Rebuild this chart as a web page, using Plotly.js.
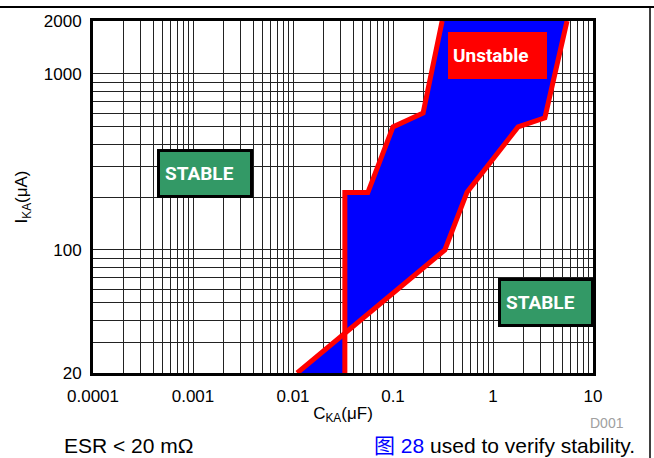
<!DOCTYPE html>
<html>
<head>
<meta charset="utf-8">
<script src="https://cdn.plot.ly/plotly-3.0.1.min.js"></script>
<style>html,body{margin:0;padding:0;background:#fff;}#chart{width:654px;height:458px;}</style>
</head>
<body>
<div id="chart"></div>
<script>
// Upper/left stability boundary (C in µF, I in µA)
const leftBoundaryC = [0.31, 0.2, 0.1, 0.056, 0.033, 0.033];
const leftBoundaryI = [2000, 600, 500, 212, 212, 20];
// Lower/right stability boundary
const rightBoundaryC = [5.5, 3.3, 1.78, 0.55, 0.33, 0.011];
const rightBoundaryI = [2000, 563, 500, 213, 100, 20];

// Labelled ticks
const xTickVals = [0.0001, 0.001, 0.01, 0.1, 1, 10];
const xTickText = ['0.0001', '0.001', '0.01', '0.1', '1', '10'];
const yTickVals = [20, 100, 1000, 2000];
const yTickText = ['20', '100', '1000', '2000'];
// Unlabelled grid positions
const xMinorVals = [];
[0.0001, 0.001, 0.01, 0.1, 1].forEach(d => {
  for (let m = 2; m <= 9; m++) xMinorVals.push(+(d * m).toPrecision(3));
});
const yMinorVals = [30, 40, 50, 60, 70, 80, 90, 200, 300, 400, 500, 600, 700, 800, 900];

const regionC = leftBoundaryC.concat(rightBoundaryC.slice().reverse());
const regionI = leftBoundaryI.concat(rightBoundaryI.slice().reverse());

const traces = [
  {x: regionC, y: regionI, type: 'scatter', mode: 'lines', fill: 'toself',
   fillcolor: '#0000FF', line: {width: 0, color: '#0000FF'}, hoverinfo: 'skip'},
  {x: leftBoundaryC, y: leftBoundaryI, type: 'scatter', mode: 'lines',
   line: {color: '#FF0000', width: 5}},
  {x: rightBoundaryC, y: rightBoundaryI, type: 'scatter', mode: 'lines',
   line: {color: '#FF0000', width: 5}}
];

const tickFont = {family: 'Liberation Sans, Arial, sans-serif', size: 17, color: '#000'};
const boxFont = {family: 'Roboto, Liberation Sans, Arial, sans-serif', size: 19, color: '#fff'};
const gridStyle = {showgrid: true, gridcolor: '#222', gridwidth: 1, ticks: ''};

const layout = {
  width: 654, height: 458,
  margin: {l: 93, r: 61, t: 21, b: 85, pad: 0},
  paper_bgcolor: '#fff', plot_bgcolor: '#fff',
  showlegend: false,
  xaxis: {
    type: 'log', range: [-4, 1],
    tickmode: 'array', tickvals: xTickVals, ticktext: xTickText,
    ticks: '', ticklabelstandoff: 6,
    showgrid: true, gridcolor: '#222', gridwidth: 1,
    minor: Object.assign({tickmode: 'array', tickvals: xMinorVals}, gridStyle),
    showline: true, linecolor: '#000', linewidth: 3, mirror: true,
    zeroline: false, tickfont: tickFont,
    title: {text: 'C<sub>KA</sub>(μF)', font: tickFont, standoff: 2}
  },
  yaxis: {
    type: 'log', range: [Math.log10(20), Math.log10(2000)],
    tickmode: 'array', tickvals: yTickVals, ticktext: yTickText,
    ticks: '', ticklabelstandoff: 5,
    showgrid: true, gridcolor: '#222', gridwidth: 1,
    minor: Object.assign({tickmode: 'array', tickvals: yMinorVals}, gridStyle),
    showline: true, linecolor: '#000', linewidth: 3, mirror: true,
    zeroline: false, tickfont: tickFont,
    title: {text: 'I<sub>KA</sub>(μA)', font: tickFont, standoff: 12}
  },
  annotations: [
    {text: '<b>STABLE</b>', xref: 'paper', yref: 'paper', x: 0.224, y: 0.567,
     xanchor: 'center', yanchor: 'middle', showarrow: false, font: boxFont,
     bgcolor: '#339966', bordercolor: '#000', borderwidth: 3, borderpad: 5,
     width: 80, height: 33, align: 'left'},
    {text: '<b>STABLE</b>', xref: 'paper', yref: 'paper', x: 0.906, y: 0.200,
     xanchor: 'center', yanchor: 'middle', showarrow: false, font: boxFont,
     bgcolor: '#339966', bordercolor: '#000', borderwidth: 3, borderpad: 5,
     width: 80, height: 33, align: 'left'},
    {text: '<b>Unstable</b>', xref: 'paper', yref: 'paper', x: 0.809, y: 0.902,
     xanchor: 'center', yanchor: 'middle', showarrow: false, font: boxFont,
     bgcolor: '#FF0000', borderwidth: 0, borderpad: 5,
     width: 89, height: 37, align: 'left'},
    {text: 'D001', xref: 'paper', yref: 'paper', x: 1.028, y: -0.142,
     xanchor: 'center', yanchor: 'middle', showarrow: false,
     font: {family: 'Liberation Sans, Arial, sans-serif', size: 14, color: '#a0a0a0'}},
    {text: 'ESR < 20 mΩ', xref: 'paper', yref: 'paper', x: -0.062, y: -0.205,
     xanchor: 'left', yanchor: 'middle', showarrow: false,
     font: {family: 'Liberation Sans, Arial, sans-serif', size: 21, color: '#000'}},
    {text: '<span style="color:#0000FF">图 28</span> used to verify stability.', xref: 'paper', yref: 'paper', x: 1.088, y: -0.205,
     xanchor: 'right', yanchor: 'middle', showarrow: false,
     font: {family: 'Liberation Sans, Noto Sans CJK SC, Arial, sans-serif', size: 21, color: '#000'}}
  ],
  shapes: [
    {type: 'line', xref: 'paper', yref: 'paper', x0: -0.19, x1: 1.13, y0: 1.04, y1: 1.04,
     line: {color: '#000', width: 2}},
    {type: 'line', xref: 'paper', yref: 'paper', x0: 1.114, x1: 1.114, y0: 1.04, y1: -0.25,
     line: {color: '#000', width: 1.5}}
  ]
};

Plotly.newPlot('chart', traces, layout, {displayModeBar: false, staticPlot: true});
</script>
</body>
</html>
